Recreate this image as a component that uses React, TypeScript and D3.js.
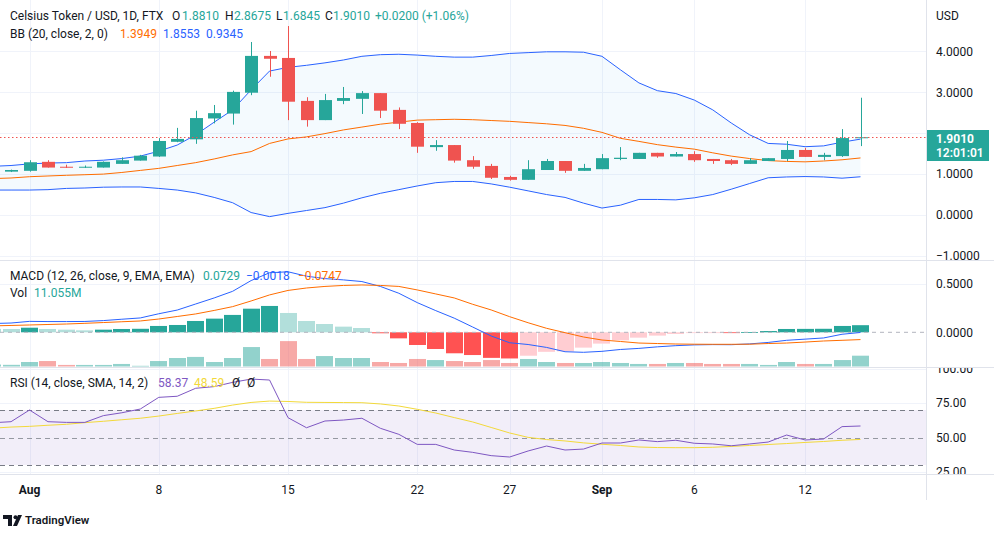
import React from "react";
import * as d3 from "d3";

const dates = [
  "2022-07-30", "2022-07-31",
  "2022-08-01", "2022-08-02", "2022-08-03", "2022-08-04", "2022-08-05", "2022-08-06", "2022-08-07", "2022-08-08",
  "2022-08-09", "2022-08-10", "2022-08-11", "2022-08-12", "2022-08-13", "2022-08-14", "2022-08-15", "2022-08-16",
  "2022-08-17", "2022-08-18", "2022-08-19", "2022-08-20", "2022-08-21", "2022-08-22", "2022-08-23", "2022-08-24",
  "2022-08-25", "2022-08-26", "2022-08-27", "2022-08-28", "2022-08-29", "2022-08-30", "2022-08-31",
  "2022-09-01", "2022-09-02", "2022-09-03", "2022-09-04", "2022-09-05", "2022-09-06", "2022-09-07", "2022-09-08",
  "2022-09-09", "2022-09-10", "2022-09-11", "2022-09-12", "2022-09-13", "2022-09-14", "2022-09-15",
];

const open = [1.05, 1.06, 1.08, 1.30, 1.18, 1.16, 1.16, 1.25, 1.33, 1.43, 1.79, 1.85, 2.36, 2.48, 2.99, 3.89, 3.84, 2.79, 2.32, 2.79, 2.84, 2.98, 2.57, 2.25, 1.66, 1.71, 1.34, 1.20, 0.93, 0.86, 1.10, 1.32, 1.08, 1.12, 1.37, 1.37, 1.52, 1.43, 1.49, 1.37, 1.34, 1.25, 1.32, 1.37, 1.59, 1.42, 1.44, 1.881];
const high = [1.08, 1.11, 1.34, 1.34, 1.23, 1.21, 1.31, 1.41, 1.47, 1.88, 2.13, 2.55, 2.69, 3.04, 4.23, 4.01, 4.62, 2.88, 2.96, 3.13, 3.03, 2.98, 2.63, 2.27, 1.83, 1.71, 1.44, 1.25, 0.96, 1.34, 1.37, 1.32, 1.25, 1.49, 1.66, 1.52, 1.52, 1.54, 1.56, 1.37, 1.37, 1.39, 1.39, 1.81, 1.64, 1.52, 2.10, 2.8675];
const low = [1.03, 1.05, 1.06, 1.16, 1.15, 1.15, 1.16, 1.25, 1.33, 1.42, 1.78, 1.74, 2.24, 2.21, 2.93, 3.38, 2.32, 2.16, 2.32, 2.71, 2.47, 2.37, 2.10, 1.52, 1.57, 1.28, 1.13, 0.88, 0.84, 0.86, 1.10, 1.03, 1.08, 1.12, 1.34, 1.37, 1.40, 1.43, 1.30, 1.25, 1.22, 1.25, 1.32, 1.32, 1.42, 1.34, 1.42, 1.6845];
const close = [1.06, 1.10, 1.29, 1.16, 1.16, 1.18, 1.30, 1.34, 1.45, 1.81, 1.86, 2.37, 2.49, 3.01, 3.89, 3.82, 2.77, 2.32, 2.81, 2.86, 2.98, 2.55, 2.23, 1.67, 1.71, 1.33, 1.18, 0.91, 0.86, 1.12, 1.32, 1.08, 1.15, 1.39, 1.40, 1.52, 1.43, 1.49, 1.34, 1.32, 1.25, 1.34, 1.39, 1.59, 1.42, 1.47, 1.881, 1.901];
const volume = [2, 1.7, 4.6, 5.6, 1.6, 1.6, 1.6, 2.6, 0.7, 5.6, 8.7, 9.8, 4.6, 8.7, 19.9, 7.7, 26, 7.7, 10.7, 8.7, 8.7, 4.6, 3.6, 7.7, 6.6, 5.6, 4.6, 6.6, 3.6, 7.7, 4.6, 3.6, 3.6, 4.6, 3.6, 2.6, 2.6, 3.6, 3.6, 2.6, 2.6, 2.6, 1.6, 4.6, 2.6, 2.6, 6.6, 11.055];

const bbUpper = [1.19, 1.21, 1.25, 1.27, 1.28, 1.32, 1.34, 1.38, 1.44, 1.56, 1.71, 1.96, 2.27, 2.57, 3.06, 3.52, 3.61, 3.66, 3.72, 3.79, 3.88, 3.92, 3.93, 3.91, 3.88, 3.86, 3.86, 3.90, 3.95, 3.97, 3.99, 3.99, 3.98, 3.88, 3.55, 3.23, 3.04, 2.97, 2.81, 2.57, 2.25, 1.96, 1.75, 1.73, 1.67, 1.69, 1.78, 1.8553];
const bbMiddle = [0.89, 0.905, 0.936, 0.954, 0.971, 0.985, 1.00, 1.04, 1.09, 1.14, 1.21, 1.28, 1.37, 1.47, 1.55, 1.75, 1.86, 1.91, 1.99, 2.08, 2.15, 2.22, 2.27, 2.32, 2.33, 2.34, 2.33, 2.31, 2.29, 2.26, 2.23, 2.19, 2.12, 2.02, 1.875, 1.80, 1.72, 1.66, 1.61, 1.52, 1.44, 1.38, 1.33, 1.31, 1.30, 1.32, 1.35, 1.3949];
const bbLower = [0.61, 0.61, 0.61, 0.62, 0.65, 0.66, 0.68, 0.685, 0.685, 0.65, 0.61, 0.54, 0.43, 0.30, 0.06, -0.04, 0.04, 0.11, 0.18, 0.29, 0.42, 0.53, 0.62, 0.71, 0.79, 0.82, 0.82, 0.76, 0.68, 0.59, 0.50, 0.43, 0.29, 0.17, 0.24, 0.38, 0.38, 0.37, 0.42, 0.50, 0.63, 0.77, 0.91, 0.93, 0.94, 0.93, 0.90, 0.9345];

const macdHist = [0.035, 0.034, 0.047, 0.034, 0.027, 0.02, 0.027, 0.034, 0.036, 0.065, 0.075, 0.116, 0.14, 0.178, 0.242, 0.27, 0.198, 0.116, 0.085, 0.058, 0.044, -0.01, -0.062, -0.13, -0.171, -0.215, -0.233, -0.262, -0.268, -0.24, -0.2, -0.195, -0.157, -0.116, -0.082, -0.055, -0.034, -0.017, -0.007, -0.003, -0.004, 0.003, 0.013, 0.034, 0.035, 0.036, 0.065, 0.0729];
const macdLine = [0.09, 0.095, 0.112, 0.11, 0.11, 0.111, 0.12, 0.134, 0.147, 0.19, 0.228, 0.29, 0.352, 0.42, 0.53, 0.61, 0.62, 0.575, 0.55, 0.537, 0.52, 0.47, 0.40, 0.304, 0.222, 0.145, 0.054, -0.038, -0.107, -0.125, -0.155, -0.199, -0.205, -0.195, -0.176, -0.165, -0.149, -0.137, -0.129, -0.126, -0.127, -0.119, -0.104, -0.082, -0.07, -0.058, -0.02, -0.0018];
const signalLine = [0.066, 0.07, 0.075, 0.08, 0.085, 0.092, 0.10, 0.108, 0.116, 0.136, 0.162, 0.188, 0.224, 0.263, 0.321, 0.383, 0.429, 0.454, 0.47, 0.48, 0.485, 0.48, 0.47, 0.434, 0.393, 0.352, 0.287, 0.229, 0.16, 0.098, 0.041, -0.004, -0.048, -0.079, -0.094, -0.11, -0.115, -0.12, -0.122, -0.123, -0.123, -0.122, -0.115, -0.11, -0.1, -0.089, -0.082, -0.0747];

const rsi = [60.7, 61.5, 70, 61.5, 61, 61, 65.9, 68, 70.7, 79.2, 80, 85.8, 87, 90.1, 92.5, 91.8, 64.4, 57.1, 62, 62.7, 64, 56.7, 52.3, 45, 45, 40.9, 39.2, 36.8, 35.8, 40.2, 43.8, 40.9, 41.6, 46, 46, 48.2, 47, 48, 45.8, 45.3, 44, 45.3, 46.7, 51.8, 48.2, 48.9, 57.9, 58.37];
const rsiMa = [56.8, 57.6, 58.1, 58.9, 59.6, 60.8, 61.8, 62.9, 64, 65.6, 67.5, 69.3, 71.2, 73.6, 75.5, 76.5, 76.2, 75.6, 75.5, 75.4, 75.3, 74.4, 72.9, 70.5, 67.8, 64.5, 61.3, 57.3, 53.3, 50.1, 48.5, 47.5, 46.1, 45.1, 44.2, 43.1, 42.7, 42.6, 42.6, 42.9, 43.5, 44.2, 44.9, 45.6, 46.4, 47.1, 48, 48.59];

const xTickDates = ["2022-08-01", "2022-08-08", "2022-08-15", "2022-08-22", "2022-08-27", "2022-09-01", "2022-09-06", "2022-09-12"];
const xTickLabels = ["Aug", "8", "15", "22", "27", "Sep", "6", "12"];
const priceTicks = [4, 3, 2, 1, 0, -1];
const macdTicks = [0.5, 0];
const rsiTicks = [100, 75, 50, 25];
const rsiBands = [70, 50, 30];

const TEAL = "#26a69a";
const RED = "#ef5350";
const BLUE = "#2962ff";
const ORANGE = "#ff6d00";
const PURPLE = "#7e57c2";
const YELLOW = "#f2d93a";
const TXT = "#131722";
const GRID = "#f0f3fa";
const SEP = "#e0e3eb";
const FONT = "'Trebuchet MS', Roboto, sans-serif";

export default function App() {
  const parse = d3.utcParse("%Y-%m-%d");
  const ds = dates.map((d) => parse(d) as Date);
  const x = d3.scaleUtc().domain([parse("2022-08-01") as Date, parse("2022-09-15") as Date]).range([29.5, 860.5]);
  const yP = d3.scaleLinear().domain([0, 4]).range([215, 51.4]);
  const yM = d3.scaleLinear().domain([0, 0.5]).range([332.3, 283.5]);
  const yV = d3.scaleLinear().domain([0, 11.055]).range([366.5, 355.7]);
  const yR = d3.scaleLinear().domain([30, 70]).range([465, 410]);

  const plotR = 926;
  const idx = d3.range(dates.length);
  const mkLine = (arr: number[], y: d3.ScaleLinear<number, number>) =>
    d3.line<number>().x((i) => x(ds[i])).y((i) => y(arr[i]))(idx) || "";

  const bbArea =
    d3
      .area<number>()
      .x((i) => x(ds[i]))
      .y0((i) => yP(bbLower[i]))
      .y1((i) => yP(bbUpper[i]))(idx) || "";

  const histColor = (i: number) => {
    const h = macdHist[i];
    const p = i > 0 ? macdHist[i - 1] : h;
    if (h >= 0) return h > p ? "#26a69a" : "#b2dfdb";
    return h < p ? "#ff5252" : "#ffcdd2";
  };

  const lastClose = close[close.length - 1];
  const labelTop = 130;
  const labelBottom = 161;
  const fmt4 = d3.format(".4f");
  const fmt2 = d3.format(".2f");
  const fmtM = (v: number) => fmt4(v).replace("-", "\u2212");
  // price-axis labels hidden by the last-price label are not drawn
  const visiblePriceTicks = priceTicks.filter((v) => yP(v) + 6 < labelTop || yP(v) - 6 > labelBottom);

  return (
    <svg
      width={994}
      height={537}
      style={{ position: "absolute", left: 0, top: 0, background: "#fff", fontFamily: FONT }}
    >
      <defs>
        <clipPath id="cMain"><rect x={0} y={0} width={plotR} height={260} /></clipPath>
        <clipPath id="cMacd"><rect x={0} y={261} width={plotR} height={106} /></clipPath>
        <clipPath id="cRsi"><rect x={0} y={368} width={plotR} height={106} /></clipPath>
        <clipPath id="cAxMain"><rect x={plotR} y={0} width={68} height={260} /></clipPath>
        <clipPath id="cAxRsi"><rect x={plotR} y={368} width={68} height={106} /></clipPath>
      </defs>
      <rect x={0} y={0} width={994} height={537} fill="#fff" />

      {/* vertical grid */}
      {xTickDates.map((d) => {
        const xx = Math.round(x(parse(d) as Date)) + 0.5;
        return (
          <g key={d}>
            <line x1={xx} x2={xx} y1={0} y2={260} stroke={GRID} />
            <line x1={xx} x2={xx} y1={261} y2={367} stroke={GRID} />
            <line x1={xx} x2={xx} y1={368} y2={474} stroke={GRID} />
          </g>
        );
      })}
      {/* horizontal grid */}
      {priceTicks.map((v) => (
        <line key={"pg" + v} x1={0} x2={plotR} y1={Math.round(yP(v)) + 0.5} y2={Math.round(yP(v)) + 0.5} stroke={GRID} />
      ))}
      <line x1={0} x2={plotR} y1={Math.round(yM(0.5)) + 0.5} y2={Math.round(yM(0.5)) + 0.5} stroke={GRID} />
      {[100, 75, 25].map((v) => (
        <line key={"rg" + v} x1={0} x2={plotR} y1={Math.round(yR(v)) + 0.5} y2={Math.round(yR(v)) + 0.5} stroke={GRID} />
      ))}

      {/* main pane */}
      <g clipPath="url(#cMain)">
        <path d={bbArea} fill="rgba(33,150,243,0.05)" />
        <path d={mkLine(bbUpper, yP)} fill="none" stroke={BLUE} strokeWidth={1} />
        <path d={mkLine(bbLower, yP)} fill="none" stroke={BLUE} strokeWidth={1} />
        <path d={mkLine(bbMiddle, yP)} fill="none" stroke={ORANGE} strokeWidth={1} />
        {idx.map((i) => {
          const cx = Math.round(x(ds[i]));
          const up = close[i] >= open[i];
          const col = up ? TEAL : RED;
          const top = yP(Math.max(open[i], close[i]));
          const bot = yP(Math.min(open[i], close[i]));
          return (
            <g key={"c" + i}>
              <line x1={cx + 0.5} x2={cx + 0.5} y1={yP(high[i])} y2={yP(low[i])} stroke={col} strokeWidth={1} />
              <rect x={cx - 6} y={top} width={13} height={Math.max(1, bot - top)} fill={col} />
            </g>
          );
        })}
        <line
          x1={0}
          x2={plotR}
          y1={Math.round(yP(lastClose)) + 0.5}
          y2={Math.round(yP(lastClose)) + 0.5}
          stroke={RED}
          strokeDasharray="1.5,2.5"
          strokeWidth={1}
        />
      </g>

      {/* MACD + volume pane */}
      <g clipPath="url(#cMacd)">
        {idx.map((i) => {
          const cx = x(ds[i]);
          const up = close[i] >= open[i];
          return (
            <rect
              key={"v" + i}
              x={Math.round(cx - 8.5)}
              y={yV(volume[i])}
              width={17}
              height={yV(0) - yV(volume[i])}
              fill={up ? "rgba(38,166,154,0.5)" : "rgba(239,83,80,0.5)"}
            />
          );
        })}
        {idx.map((i) => {
          const cx = x(ds[i]);
          const y0 = yM(0);
          const y1 = yM(macdHist[i]);
          return (
            <rect
              key={"h" + i}
              x={Math.round(cx - 8.5)}
              y={Math.min(y0, y1)}
              width={17}
              height={Math.max(0.8, Math.abs(y1 - y0))}
              fill={histColor(i)}
            />
          );
        })}
        <line x1={0} x2={plotR} y1={yM(0)} y2={yM(0)} stroke="#b2b5be" strokeDasharray="4,4" />
        <path d={mkLine(macdLine, yM)} fill="none" stroke={BLUE} strokeWidth={1} />
        <path d={mkLine(signalLine, yM)} fill="none" stroke={ORANGE} strokeWidth={1} />
      </g>

      {/* RSI pane */}
      <g clipPath="url(#cRsi)">
        <rect x={0} y={yR(70)} width={plotR} height={yR(30) - yR(70)} fill="rgba(126,87,194,0.1)" />
        {rsiBands.map((v) => (
          <line
            key={"rb" + v}
            x1={0}
            x2={plotR}
            y1={Math.round(yR(v)) + 0.5}
            y2={Math.round(yR(v)) + 0.5}
            stroke={v === 50 ? "#9598a1" : "#787b86"}
            strokeDasharray="5,4"
          />
        ))}
        <path d={mkLine(rsiMa, yR)} fill="none" stroke={YELLOW} strokeWidth={1} />
        <path d={mkLine(rsi, yR)} fill="none" stroke={PURPLE} strokeWidth={1} />
      </g>

      {/* separators */}
      <line x1={0} x2={994} y1={260.5} y2={260.5} stroke={SEP} />
      <line x1={0} x2={994} y1={367.5} y2={367.5} stroke={SEP} />
      <line x1={0} x2={994} y1={474.5} y2={474.5} stroke={SEP} />
      <line x1={plotR + 0.5} x2={plotR + 0.5} y1={0} y2={500} stroke={SEP} />

      {/* right axis labels */}
      <g fontSize={12} fill={TXT}>
        <text x={936} y={19.5}>USD</text>
        <g clipPath="url(#cAxMain)">
          {visiblePriceTicks.map((v) => (
            <text key={"pt" + v} x={936} y={yP(v) + 4.3}>{fmtM(v)}</text>
          ))}
        </g>
        {macdTicks.map((v) => (
          <text key={"mt" + v} x={936} y={yM(v) + 4.3}>{fmtM(v)}</text>
        ))}
        <g clipPath="url(#cAxRsi)">
          {rsiTicks.map((v) => (
            <text key={"rt" + v} x={936} y={yR(v) + 4.3}>{fmt2(v)}</text>
          ))}
        </g>
      </g>

      {/* last price label */}
      <rect x={927} y={labelTop} width={62} height={labelBottom - labelTop} fill={TEAL} />
      <text x={936} y={143} fontSize={12} fontWeight={700} fill="#fff">{fmt4(lastClose)}</text>
      <text x={936} y={156.5} fontSize={12} fontWeight={600} fill="#fff">12:01:01</text>

      {/* x axis labels */}
      <g fontSize={12} fill={TXT} textAnchor="middle">
        {xTickDates.map((d, k) => (
          <text
            key={"xt" + d}
            x={x(parse(d) as Date)}
            y={493.5}
            fontWeight={xTickLabels[k] === "Aug" || xTickLabels[k] === "Sep" ? 700 : 400}
          >
            {xTickLabels[k]}
          </text>
        ))}
      </g>

      {/* legends */}
      <g fontSize={12} fill={TXT}>
        <text x={10} y={20}>Celsius Token / USD, 1D, FTX</text>
        <text x={172} y={20}>O</text>
        <text x={182} y={20} fill={TEAL}>1.8810</text>
        <text x={225} y={20}>H</text>
        <text x={234} y={20} fill={TEAL}>2.8675</text>
        <text x={276} y={20}>L</text>
        <text x={283} y={20} fill={TEAL}>1.6845</text>
        <text x={325} y={20}>C</text>
        <text x={333} y={20} fill={TEAL}>1.9010</text>
        <text x={375} y={20} fill={TEAL}>+0.0200 (+1.06%)</text>

        <text x={10} y={37.5}>BB (20, close, 2, 0)</text>
        <text x={120} y={37.5} fill={ORANGE}>1.3949</text>
        <text x={163} y={37.5} fill={BLUE}>1.8553</text>
        <text x={206} y={37.5} fill={BLUE}>0.9345</text>

        <text x={10} y={280}>MACD (12, 26, close, 9, EMA, EMA)</text>
        <text x={203} y={280} fill={TEAL}>0.0729</text>
        <text x={246} y={280} fill={BLUE}>{"\u22120.0018"}</text>
        <text x={298} y={280} fill={ORANGE}>{"\u22120.0747"}</text>
        <text x={10} y={297}>Vol</text>
        <text x={34} y={297} fill={TEAL}>11.055M</text>

        <text x={10} y={386.6}>RSI (14, close, SMA, 14, 2)</text>
        <text x={158} y={386.6} fill={PURPLE}>58.37</text>
        <text x={194} y={386.6} fill={YELLOW}>48.59</text>
        <text x={232} y={386.6}>{"\u00d8"}</text>
        <text x={247} y={386.6}>{"\u00d8"}</text>
      </g>

      {/* TradingView logo */}
      <g fill={TXT}>
        <path d="M3 515 H12 V526 H8 V519 H3 Z" />
        <circle cx={15.5} cy={517.2} r={2} />
        <path d="M13 526 L18 515 H22 L17 526 Z" />
        <text x={25} y={524} fontSize={11.5} fontWeight={600}>TradingView</text>
      </g>
    </svg>
  );
}
